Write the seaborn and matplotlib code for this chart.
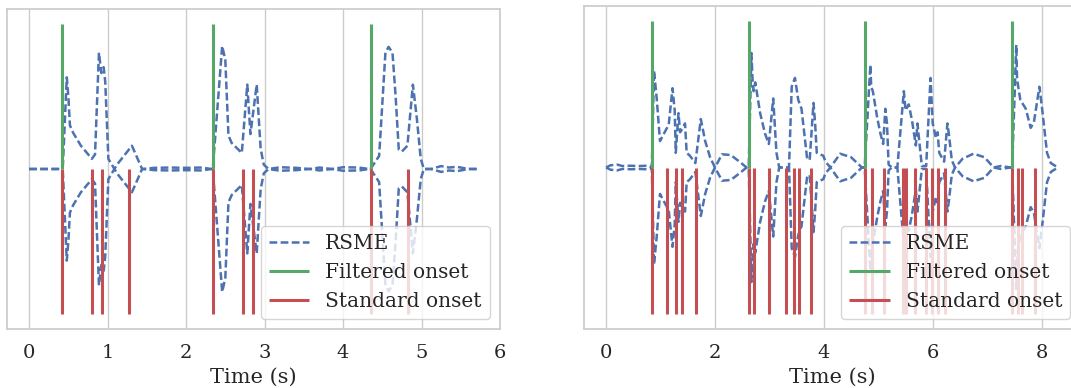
import matplotlib
matplotlib.use("Agg")
import matplotlib.pyplot as plt
import seaborn as sns
import numpy as np
import pandas as pd

# ---------------- data ----------------
# Left panel: signed RSME envelope (drawn as +value and -value)
t1 = [0.0, 0.2, 0.37, 0.42, 0.43, 0.48, 0.50, 0.52, 0.56, 0.66, 0.80, 0.84, 0.89, 0.92, 0.95,
      0.97, 1.01, 1.12, 1.31, 1.44, 1.6, 1.8, 2.0, 2.2, 2.32, 2.34, 2.46, 2.50, 2.54, 2.58,
      2.71, 2.78, 2.82, 2.90, 2.95, 2.99, 3.05, 3.2, 3.4, 3.58, 3.7, 3.86, 4.0, 4.2, 4.33,
      4.35, 4.46, 4.54, 4.58, 4.63, 4.67, 4.71, 4.75, 4.82, 4.89, 4.94, 4.99, 5.03, 5.12, 5.25,
      5.35, 5.45, 5.6, 5.71]
rsme1 = [0.0, 0.0, 0.0, 0.01, 0.02, 0.63, 0.50, 0.30, 0.25, 0.16, 0.07, 0.10, 0.80, 0.66, 0.70,
         0.60, 0.07, -0.03, -0.16, 0.0, 0.008, 0.01, 0.008, 0.01, 0.0, 0.0, 0.845, 0.75, 0.23, 0.18,
         0.11, 0.58, 0.24, 0.58, 0.14, 0.03, 0.0, 0.012, 0.008, 0.0, 0.01, 0.0, 0.012, 0.01, 0.0,
         0.0, 0.09, 0.80, 0.84, 0.80, 0.50, 0.135, 0.12, 0.16, 0.58, 0.35, 0.07, 0.0, 0.0, 0.02,
         0.01, 0.015, 0.0, 0.0]
filtered1 = [0.425, 2.34, 4.35]
standard1 = [0.425, 0.80, 0.93, 1.27, 2.34, 2.72, 2.85, 4.35, 4.83]
xticks1 = [0, 1, 2, 3, 4, 5, 6]

# Right panel
t2 = [0.0, 0.08, 0.2, 0.3, 0.45, 0.6, 0.75, 0.82,
      0.84, 0.88, 0.93, 0.99, 1.09, 1.15, 1.22, 1.26, 1.28, 1.33, 1.36, 1.41, 1.45, 1.48,
      1.54, 1.64, 1.74, 1.82, 1.91, 2.0,
      2.13, 2.29, 2.45, 2.58,
      2.62, 2.67, 2.69, 2.71, 2.74, 2.83, 2.92, 2.99, 3.07, 3.13, 3.18, 3.36, 3.41, 3.47,
      3.53, 3.59, 3.69, 3.74, 3.81, 3.84, 3.87, 3.99, 4.03,
      4.12, 4.30, 4.50, 4.70,
      4.75, 4.855, 4.87, 4.9, 4.98, 5.04, 5.09, 5.13, 5.16, 5.19, 5.25, 5.35, 5.47, 5.50,
      5.56, 5.62, 5.69, 5.72, 5.80, 5.88, 5.96, 6.0, 6.06, 6.09, 6.12, 6.21, 6.27, 6.30,
      6.35, 6.41,
      6.55, 6.75, 6.95, 7.12, 7.25, 7.43,
      7.46, 7.535, 7.55, 7.61, 7.71, 7.80, 7.86, 7.96, 8.01, 8.10, 8.17, 8.30]
rsme2 = [0.0, 0.015, 0.02, 0.01, 0.012, 0.01, 0.012, 0.005,
         0.0, 0.66, 0.47, 0.18, 0.25, 0.29, 0.54, 0.39, 0.10, 0.37, 0.24, 0.27, 0.30, 0.10,
         0.08, 0.03, 0.33, 0.18, 0.07, 0.0,
         0.09, 0.085, 0.04, 0.0,
         0.0, 0.78, 0.60, 0.52, 0.58, 0.37, 0.23, 0.16, 0.47, 0.10, 0.0, 0.0, 0.55, 0.61,
         0.46, 0.40, 0.07, 0.05, 0.44, 0.30, 0.10, 0.08, 0.04,
         0.0, 0.094, 0.07, 0.0,
         0.0, 0.70, 0.55, 0.52, 0.34, 0.23, 0.16, 0.40, 0.30, 0.02, 0.0, 0.0, 0.52, 0.39,
         0.43, 0.32, 0.15, 0.30, 0.01, 0.01, 0.61, 0.30, 0.20, 0.24, 0.10, 0.04, 0.30, 0.22,
         0.05, 0.0,
         0.06, 0.094, 0.07, 0.0, 0.01, 0.0,
         0.0, 0.835, 0.60, 0.46, 0.40, 0.27, 0.31, 0.55, 0.40, 0.10, 0.03, 0.0]
filtered2 = [0.84, 2.62, 4.75, 7.46]
standard2 = [0.84, 1.12, 1.28, 1.39, 1.66, 2.62, 2.72, 3.00, 3.30, 3.45, 3.55, 3.76,
             4.75, 4.88, 5.10, 5.45, 5.51, 5.67, 5.87, 5.98, 6.10, 6.22, 7.46, 7.56, 7.64, 7.87]
xticks2 = [0, 2, 4, 6, 8]

xlabel = "Time (s)"
labels = ["RSME", "Filtered onset", "Standard onset"]

# ---------------- style ----------------
sns.set_theme(style="whitegrid", font="serif", color_codes=True)
plt.rcParams["font.family"] = ["DejaVu Serif"]
plt.rcParams.update({
    "xtick.labelsize": 14,
    "axes.labelsize": 15,
    "axes.labelpad": 4,
    "legend.fontsize": 14.5,
    "xtick.major.pad": 5,
    "axes.edgecolor": "0.8",
    "axes.linewidth": 1.25,
})

deep = sns.color_palette("deep")
blue, green, red = deep[0], deep[2], deep[3]

fig = plt.figure(figsize=(10.71, 3.88), dpi=100)
ax1 = fig.add_axes([6.7 / 1071, 59 / 388, 493.3 / 1071, 320 / 388])
ax2 = fig.add_axes([583.5 / 1071, 59 / 388, 497 / 1071, 323 / 388])

dash = (0, (3.1, 1.35))


def draw(ax, t, r, filt, std, ticks):
    df = pd.DataFrame({"t": t, "up": r, "down": [-v for v in r]})
    sns.lineplot(data=df, x="t", y="up", ax=ax, color=blue, linestyle=dash,
                 linewidth=1.8, label=labels[0], sort=False, estimator=None)
    sns.lineplot(data=df, x="t", y="down", ax=ax, color=blue, linestyle=dash,
                 linewidth=1.8, sort=False, estimator=None)
    ax.vlines(filt, 0, 1, color=green, linewidth=2.2, label=labels[1])
    ax.vlines(std, -1, 0, color=red, linewidth=2.2, label=labels[2])
    ax.set_xticks(ticks)
    ax.set_yticks([])
    ax.set_xlabel(xlabel)
    ax.set_ylabel("")
    ax.legend(loc="lower right")


draw(ax1, t1, rsme1, filtered1, standard1, xticks1)
draw(ax2, t2, rsme2, filtered2, standard2, xticks2)

fig.savefig("out.png", dpi=100)
